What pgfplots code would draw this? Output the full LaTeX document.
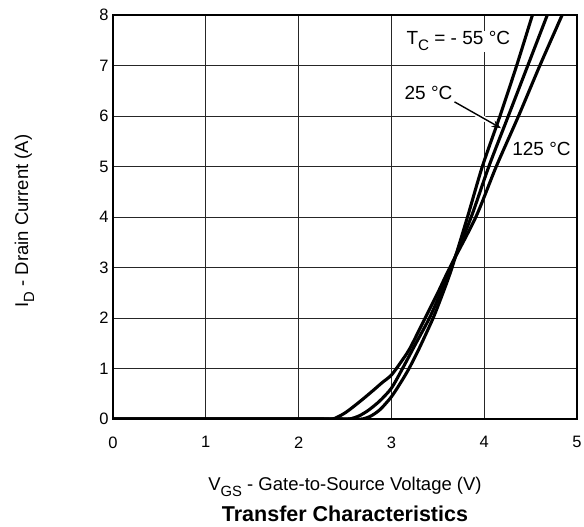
\documentclass[border=0pt]{standalone}
\usepackage{fontspec}
\setmainfont{Liberation Sans}
\usepackage{pgfplots}
\pgfplotsset{compat=1.18}
\usetikzlibrary{arrows.meta}
\newcommand\sub[1]{\raisebox{-0.32em}{\scalebox{0.8}{#1}}}

\begin{document}
\begin{tikzpicture}
\begin{axis}[
  scale only axis,
  width=464pt, height=404pt,
  xmin=0, xmax=5, ymin=0, ymax=8,
  xtick={0,1,...,5}, ytick={0,1,...,8},
  major tick length=0pt,
  grid=major,
  grid style={line width=0.9pt, black!85},
  axis line style={line width=1.6pt},
  tick label style={font=\fontsize{16.5}{19}\selectfont},
  /pgf/number format/assume math mode=true,
  xticklabel style={yshift=-14pt},
  yticklabel style={xshift=-1pt},
  xlabel={V\sub{GS} - Gate-to-Source Voltage (V)},
  ylabel={I\sub{D} - Drain Current (A)},
  label style={font=\fontsize{18.5}{21}\selectfont},
  xlabel style={at={(axis description cs:0.5,-0.176)}, anchor=base},
  ylabel style={at={(axis description cs:-0.191,0.49)}, anchor=center},
  curve/.style={black, line width=3.1pt, no markers, smooth, tension=0.45},
]
% TC = -55 C
\addplot[curve] coordinates {(0,0) (1,0) (2,0) (2.4,0) (2.6,0) (2.69,0) (2.78,0.06) (2.88,0.19) (3.00,0.44) (3.10,0.72) (3.19,1.00) (3.30,1.40) (3.45,2.00) (3.55,2.47) (3.65,2.98) (3.82,4.00) (3.98,5.00) (4.17,6.00) (4.35,7.00) (4.52,8.00) (4.58,8.33)};
% 25 C
\addplot[curve] coordinates {(0,0) (1,0) (2,0) (2.3,0) (2.46,0) (2.55,0) (2.65,0.06) (2.75,0.17) (2.87,0.35) (3.00,0.61) (3.12,1.00) (3.25,1.45) (3.41,2.00) (3.53,2.50) (3.64,3.00) (3.86,4.00) (4.05,5.00) (4.26,6.00) (4.47,7.00) (4.68,8.00) (4.75,8.33)};
% 125 C
\addplot[curve] coordinates {(0,0) (1,0) (1.9,0) (2.15,0) (2.26,0) (2.37,0) (2.50,0.12) (2.65,0.33) (2.80,0.56) (2.90,0.72) (3.00,0.87) (3.10,1.12) (3.20,1.40) (3.35,1.95) (3.50,2.50) (3.63,3.00) (3.91,4.00) (4.13,5.00) (4.37,6.00) (4.60,7.00) (4.84,8.00) (4.92,8.33)};

\node[anchor=base west, fill=white, inner sep=1pt, font=\fontsize{19}{22}\selectfont]
  at (axis cs:3.15,7.41) {T\sub{C} = - 55 °C};
\node[anchor=base west, fill=white, inner sep=1pt, font=\fontsize{19}{22}\selectfont]
  at (axis cs:3.13,6.32) {25 °C};
\node[anchor=base west, fill=white, inner sep=1pt, font=\fontsize{19}{22}\selectfont]
  at (axis cs:4.29,5.21) {125 °C};
\draw[white, line width=5pt] (axis cs:3.70,6.26) -- (axis cs:4.12,5.82);
\draw[line width=1.4pt, -{Stealth[length=9pt,width=7pt]}] (axis cs:3.68,6.28) -- (axis cs:4.18,5.76);
\end{axis}
\node[anchor=base, font=\bfseries\fontsize{21.5}{25}\selectfont] at (232pt,-102.7pt) {Transfer Characteristics};
\pgfresetboundingbox
\useasboundingbox (-113pt,-108pt) rectangle (471pt,419pt);
\end{tikzpicture}
\end{document}
